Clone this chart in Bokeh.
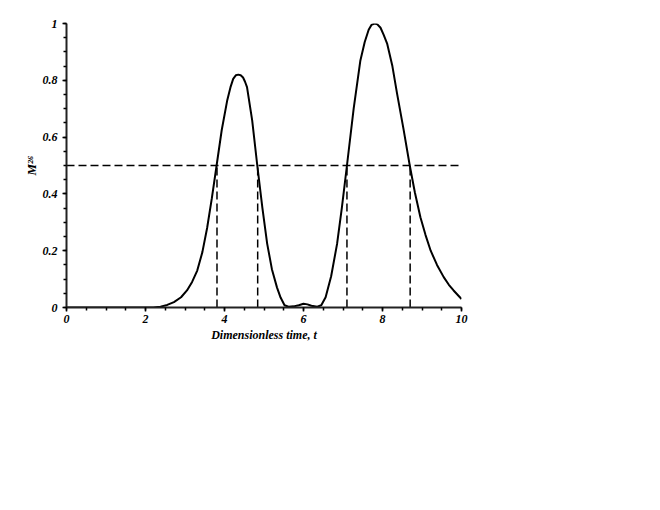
from bokeh.plotting import figure
from bokeh.models import Range1d, FixedTicker
from bokeh.embed import file_html
from bokeh.resources import INLINE

t_vals = [0.0, 1.0, 2.0, 2.2, 2.38, 2.55, 2.72, 2.9, 3.05, 3.18, 3.31, 3.44, 3.56, 3.68, 3.80,
          3.93, 4.07, 4.15, 4.22, 4.29, 4.35, 4.41, 4.47, 4.52, 4.57, 4.70,
          4.83, 4.96, 5.08, 5.20, 5.33, 5.42, 5.52, 5.62, 5.75, 5.88, 6.0, 6.1, 6.2, 6.35,
          6.45, 6.56, 6.70, 6.85, 6.97, 7.10, 7.27, 7.44, 7.55, 7.65, 7.72, 7.80,
          7.87, 7.95, 8.03, 8.12, 8.25, 8.37, 8.53, 8.69, 8.82, 8.96, 9.09, 9.22, 9.38, 9.55,
          9.68, 9.8, 9.9, 10.0]
m_vals = [0.0, 0.0, 0.0, 0.0, 0.003, 0.009, 0.019, 0.036, 0.06, 0.09, 0.13, 0.195, 0.28, 0.385, 0.50,
          0.625, 0.73, 0.775, 0.805, 0.818, 0.82, 0.818, 0.81, 0.795, 0.776, 0.66,
          0.50, 0.35, 0.225, 0.135, 0.07, 0.035, 0.008, 0.003, 0.004, 0.008, 0.013, 0.011, 0.006, 0.003,
          0.008, 0.036, 0.11, 0.224, 0.35, 0.50, 0.70, 0.87, 0.935, 0.978, 0.995, 1.0,
          0.997, 0.985, 0.96, 0.928, 0.85, 0.752, 0.63, 0.50, 0.405, 0.318, 0.255, 0.20, 0.15, 0.107,
          0.08, 0.06, 0.045, 0.03]
half_level = 0.5
crossings = [3.81, 4.84, 7.10, 8.70]
x_ticks = [0, 2, 4, 6, 8, 10]
y_ticks = [0, 0.2, 0.4, 0.6, 0.8, 1]

FONT = "Liberation Serif"

p = figure(frame_width=395, frame_height=284, output_backend="svg", toolbar_location=None,
           x_range=Range1d(0, 10), y_range=Range1d(0, 1),
           min_border_left=66, min_border_top=23, min_border_right=20, min_border_bottom=40)
p.outline_line_color = None
p.grid.visible = False
p.background_fill_color = "white"

p.line(t_vals, m_vals, line_color="black", line_width=2)
p.line([0, 10], [half_level, half_level], line_color="black", line_width=1.5, line_dash="8 4")
for c in crossings:
    p.line([c, c], [0, half_level], line_color="black", line_width=1.5, line_dash="8 4")

p.xaxis.ticker = FixedTicker(ticks=x_ticks, minor_ticks=[i * 0.5 for i in range(21)])
p.yaxis.ticker = FixedTicker(ticks=y_ticks, minor_ticks=[i * 0.05 for i in range(21)])
p.yaxis.major_label_overrides = {0: "0", 0.2: "0.2", 0.4: "0.4", 0.6: "0.6", 0.8: "0.8", 1: "1"}

for ax in (p.xaxis, p.yaxis):
    ax.axis_line_color = "#222222"
    ax.axis_line_width = 2
    ax.major_tick_line_color = "black"
    ax.minor_tick_line_color = "black"
    ax.major_tick_line_width = 1.5
    ax.minor_tick_line_width = 1.5
    ax.major_tick_out = 4
    ax.major_tick_in = 0
    ax.minor_tick_out = 3
    ax.minor_tick_in = 0
    ax.major_label_text_font = FONT
    ax.major_label_text_font_style = "bold italic"
    ax.major_label_text_font_size = "12px"
    ax.major_label_text_color = "black"
    ax.axis_label_text_font = FONT
    ax.axis_label_text_font_style = "bold italic"
    ax.axis_label_text_font_size = "12px"
    ax.axis_label_text_color = "black"

p.xaxis.axis_label = "Dimensionless time, t"
p.xaxis.axis_label_standoff = 2
p.xaxis.major_label_standoff = 3
p.yaxis.axis_label = "M²⁶"
p.yaxis.axis_label_text_font_size = "13px"
p.yaxis.axis_label_standoff = 1
p.yaxis.major_label_standoff = 5

open("out.html", "w").write(file_html(p, INLINE))
